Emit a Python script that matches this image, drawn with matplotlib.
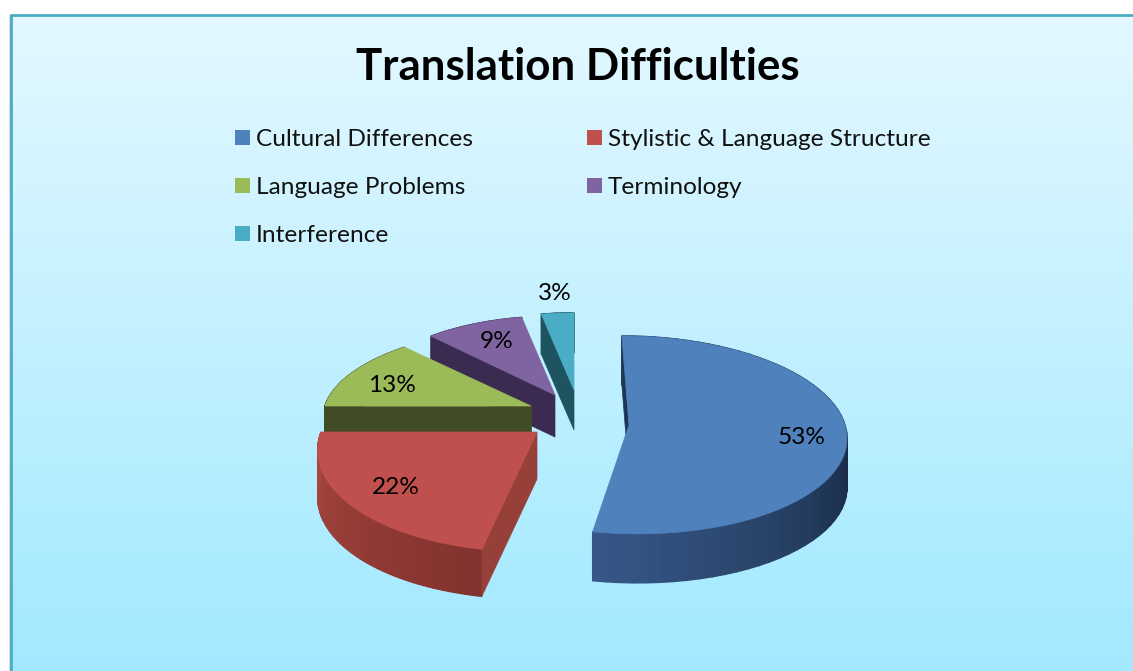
"""Translation difficulties: exploded 3D-look pie."""
import numpy as np
import matplotlib
matplotlib.use("Agg")
import matplotlib.pyplot as plt
from matplotlib.colors import LinearSegmentedColormap, to_rgb
from matplotlib.patches import Polygon, Rectangle

plt.rcParams["font.family"] = ["Lato", "DejaVu Sans"]

title = "Translation Difficulties"
labels = ["Cultural Differences", "Stylistic & Language Structure", "Language Problems", "Terminology", "Interference"]
shares = [53, 22, 13, 9, 3]
colors = ["#4f81bd", "#c0504d", "#9bbb59", "#8064a2", "#4bacc6"]

# look of each slice, pixels: apex x, apex y, rx, ry, perspective, shear, depth
shape = [
    (629, 425, 216, 98, 0.10, 0.08, 49),
    (537, 432, 216, 103, 0.14, -0.07, 47),
    (531, 406, 206, 86, 0.09, -0.10, 40),
    (555, 395, 193, 86, 0.09, 0.0, 42),
    (574, 390, 190, 84, 0.09, 0.0, 40),
]
# wall shade at slice start / end, and the flat cut face
wall_shades = [("#1a2c47", "#37598a"), ("#82322e", "#a8473f"), ("#414c26", "#414c26"),
               ("#3b2b50", "#3b2b50"), ("#1e5360", "#1e5360")]
face_shades = ["#1d3556", "#974039", "#414c26", "#3b2b50", "#1e5360"]
label_pos = [(802, 438), (396, 488), (392, 385), (497, 342), (555, 294)]
legend_pos = [(235, 138), (587, 138), (235, 186), (587, 186), (235, 234)]


def project(theta, sh):
    ax0, ay0, rx, ry, k, shear, _ = sh
    xw, yw = np.sin(theta), np.cos(theta)
    w = 1 + k * yw
    dy = -ry * yw / w
    return ax0 + rx * xw / w + shear * dy, ay0 + dy


fig = plt.figure(figsize=(11.33, 6.71), dpi=100, facecolor="white")
ax = fig.add_axes([0, 0, 1, 1])

# panel
ax.add_patch(Rectangle((8.5, 15), 3, 660, color="#d8d8d8", lw=0))
cmap = LinearSegmentedColormap.from_list("bg", ["#e3f8ff", "#a2e9ff"])
grad = np.linspace(0, 1, 256).reshape(-1, 1)
ax.imshow(grad, cmap=cmap, extent=(11, 1133, 671, 15), aspect="auto", zorder=0)
ax.plot([11, 11, 1133], [671, 15, 15], color="#4bacc6", lw=2, solid_joinstyle="miter", zorder=1)

ax.text(578, 67.5, title, ha="center", va="center", fontsize=31.6, fontweight="bold", color="black")

for (lx, ly), lab, col in zip(legend_pos, labels, colors):
    ax.add_patch(Rectangle((lx, ly - 8), 15, 15, color=col, lw=0))
    ax.text(lx + 21, ly + 2, lab, ha="left", va="center", fontsize=17.6, color="#111111")

# slice angles, clockwise from top
edges = np.radians(np.cumsum([0] + shares) * 3.6)

# far slices first, blue last
for i in [4, 3, 2, 1, 0]:
    t0, t1 = edges[i], edges[i + 1]
    sh = shape[i]
    depth = sh[6]
    z = 2 + (4 - i)
    thetas = np.linspace(t0, t1, 60)
    xs, ys = project(thetas, sh)
    # outer wall, blue one only shades over its visible part
    c0, c1 = np.array(to_rgb(wall_shades[i][0])), np.array(to_rgb(wall_shades[i][1]))
    for j in range(len(thetas) - 1):
        f = j / (len(thetas) - 2)
        if i == 0:
            f = np.clip((thetas[j] - np.radians(100)) / (t1 - np.radians(100)), 0, 1)
        col = c0 + (c1 - c0) * f
        quad = [(xs[j], ys[j]), (xs[j + 1], ys[j + 1]), (xs[j + 1], ys[j + 1] + depth), (xs[j], ys[j] + depth)]
        ax.add_patch(Polygon(quad, closed=True, fc=col, ec=col, lw=1.0, zorder=z))
    # cut face at slice start
    face = [(xs[0], ys[0]), (sh[0], sh[1]), (sh[0], sh[1] + depth), (xs[0], ys[0] + depth)]
    ax.add_patch(Polygon(face, closed=True, fc=face_shades[i], ec=face_shades[i], lw=0.5, zorder=z))
    # top
    top = np.column_stack([np.append(xs, sh[0]), np.append(ys, sh[1])])
    ax.add_patch(Polygon(top, closed=True, fc=colors[i], ec=colors[i], lw=0.5, zorder=z))

for (px, py), v in zip(label_pos, shares):
    ax.text(px, py, f"{v}%", ha="center", va="center", fontsize=17.6, color="black", zorder=10)

ax.set_xlim(0, 1133)
ax.set_ylim(671, 0)
ax.axis("off")
fig.savefig("out.png", dpi=100)
plt.close()
